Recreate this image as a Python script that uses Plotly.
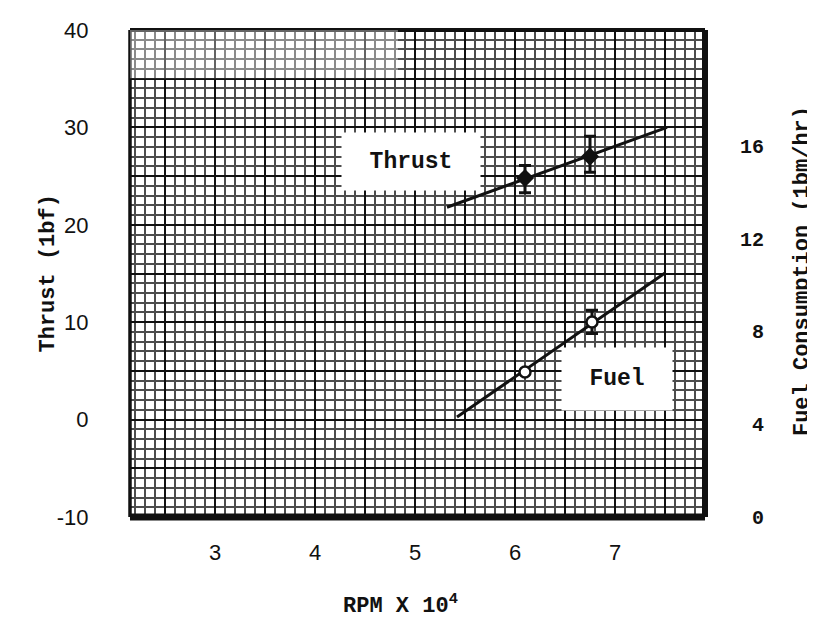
import plotly.graph_objects as go

INK = "#111111"
MONO = "Liberation Mono, Courier New, monospace"
SANS = "Liberation Sans, Arial, sans-serif"

# measured thrust points (lbf) with asymmetric error bars
thrust_rpm = [6.10, 6.75]
thrust_lbf = [24.8, 27.0]
thrust_err_up = [1.3, 2.1]
thrust_err_dn = [1.5, 1.6]

# fitted thrust line
thrust_fit_rpm = [5.32, 7.52]
thrust_fit_lbf = [21.8, 30.0]

# measured fuel points (lbm/hr)
fuel_rpm = [6.10, 6.77]
fuel_lbm = [6.25, 8.41]
fuel_err = [0.0, 0.5]

# fitted fuel line
fuel_fit_rpm = [5.42, 7.50]
fuel_fit_lbm = [4.31, 10.52]

x_ticks = [2.5, 3, 3.5, 4, 4.5, 5, 5.5, 6, 6.5, 7, 7.5]
x_text = ["", "3", "", "4", "", "5", "", "6", "", "7", ""]
y_ticks = [-10, -5, 0, 5, 10, 15, 20, 25, 30, 35, 40]
y_text = ["-10", "", "0", "", "10", "", "20", "", "30", "", "40"]
y2_ticks = [0, 4, 8, 12, 16]
y2_text = ["<b> 0</b>", "<b> 4</b>", "<b> 8</b>", "<b>12</b>", "<b>16</b>"]

fig = go.Figure()

fig.add_trace(go.Scatter(
    x=thrust_fit_rpm, y=thrust_fit_lbf, mode="lines",
    line=dict(color=INK, width=3), showlegend=False, hoverinfo="skip",
))
fig.add_trace(go.Scatter(
    x=thrust_rpm, y=thrust_lbf, mode="markers",
    marker=dict(symbol="diamond", size=14, color=INK),
    error_y=dict(type="data", array=thrust_err_up, arrayminus=thrust_err_dn,
                 color=INK, thickness=3, width=6),
    showlegend=False,
))
fig.add_trace(go.Scatter(
    x=fuel_fit_rpm, y=fuel_fit_lbm, mode="lines", yaxis="y2",
    line=dict(color=INK, width=3), showlegend=False, hoverinfo="skip",
))
fig.add_trace(go.Scatter(
    x=fuel_rpm, y=fuel_lbm, mode="markers", yaxis="y2",
    marker=dict(symbol="circle", size=11, color="white",
                line=dict(color=INK, width=2.5)),
    error_y=dict(type="data", array=fuel_err, color=INK, thickness=3, width=6),
    showlegend=False,
))

grid_major = dict(showgrid=True, gridcolor="#111111", gridwidth=2.4)
grid_minor = dict(showgrid=True, gridcolor="#4d4d4d", gridwidth=1.5)

# the page body adds an 8px offset, so the figure is 8px smaller than the window
fig.update_layout(
    width=807, height=620,
    margin=dict(l=122, r=110, t=22, b=111),
    plot_bgcolor="white", paper_bgcolor="white",
    font=dict(color=INK, family=SANS),
    xaxis=dict(
        range=[2.15, 7.9], tickvals=x_ticks, ticktext=x_text, automargin=False,
        ticks="outside", ticklen=16, tickcolor="rgba(0,0,0,0)",
        tickfont=dict(family=SANS, size=22, color=INK),
        zeroline=False, showline=False,
        minor=dict(dtick=0.1, tick0=0, **grid_minor),
        **grid_major,
    ),
    yaxis=dict(
        range=[-10, 40], tickvals=y_ticks, ticktext=y_text, automargin=False,
        ticks="outside", ticklen=36, tickcolor="rgba(0,0,0,0)",
        tickfont=dict(family=SANS, size=22, color=INK),
        zeroline=False, showline=False,
        minor=dict(dtick=1, tick0=0, **grid_minor),
        **grid_major,
    ),
    yaxis2=dict(
        overlaying="y", side="right", range=[0, 21], automargin=False,
        tickvals=y2_ticks, ticktext=y2_text,
        ticks="outside", ticklen=30, tickcolor="rgba(0,0,0,0)",
        tickfont=dict(family=MONO, size=20, color=INK),
        showgrid=False, zeroline=False, showline=False,
    ),
)

# paper frame, heavier on bottom and right like the original sheet
for x0, y0, x1, y1, w in [(0, 0, 1, 0, 7), (1, 0, 1, 1, 6), (0, 1, 1, 1, 4), (0, 0, 0, 1, 3.5)]:
    fig.add_shape(type="line", xref="paper", yref="paper",
                  x0=x0, y0=y0, x1=x1, y1=y1, line=dict(color=INK, width=w))

# lighter patch of the scanned sheet, top left
fig.add_shape(type="rect", xref="paper", yref="paper", layer="above",
              x0=0, x1=0.466, y0=0.901, y1=1,
              fillcolor="rgba(255,255,255,0.35)", line=dict(width=0))

# curve labels in white boxes
fig.add_annotation(xref="paper", yref="paper", x=0.4887, y=0.730,
                   xanchor="center", yanchor="middle",
                   text="<b>Thrust</b>", showarrow=False, bgcolor="white",
                   width=134, height=53, borderpad=2,
                   font=dict(family=MONO, size=23, color=INK))
fig.add_annotation(xref="paper", yref="paper", x=0.847, y=0.2834,
                   xanchor="center", yanchor="middle",
                   text="<b>Fuel</b>", showarrow=False, bgcolor="white",
                   width=106, height=58, borderpad=2,
                   font=dict(family=MONO, size=23, color=INK))

# axis titles
fig.add_annotation(xref="paper", yref="paper", x=-0.1426, y=0.5,
                   text="<b>Thrust (1bf)</b>", textangle=-90, showarrow=False,
                   xanchor="center", yanchor="middle",
                   font=dict(family=MONO, size=22, color=INK))
fig.add_annotation(xref="paper", yref="paper", x=1.1687, y=0.505,
                   text="<b>Fuel Consumption (1bm/hr)</b>", textangle=-90, showarrow=False,
                   xanchor="center", yanchor="middle",
                   font=dict(family=MONO, size=22, color=INK))
fig.add_annotation(xref="paper", yref="paper", x=0.4696, y=-0.18,
                   text="<b>RPM X 10<sup>4</sup></b>", showarrow=False,
                   xanchor="center", yanchor="middle",
                   font=dict(family=MONO, size=22, color=INK))

fig.write_html("out.html")
